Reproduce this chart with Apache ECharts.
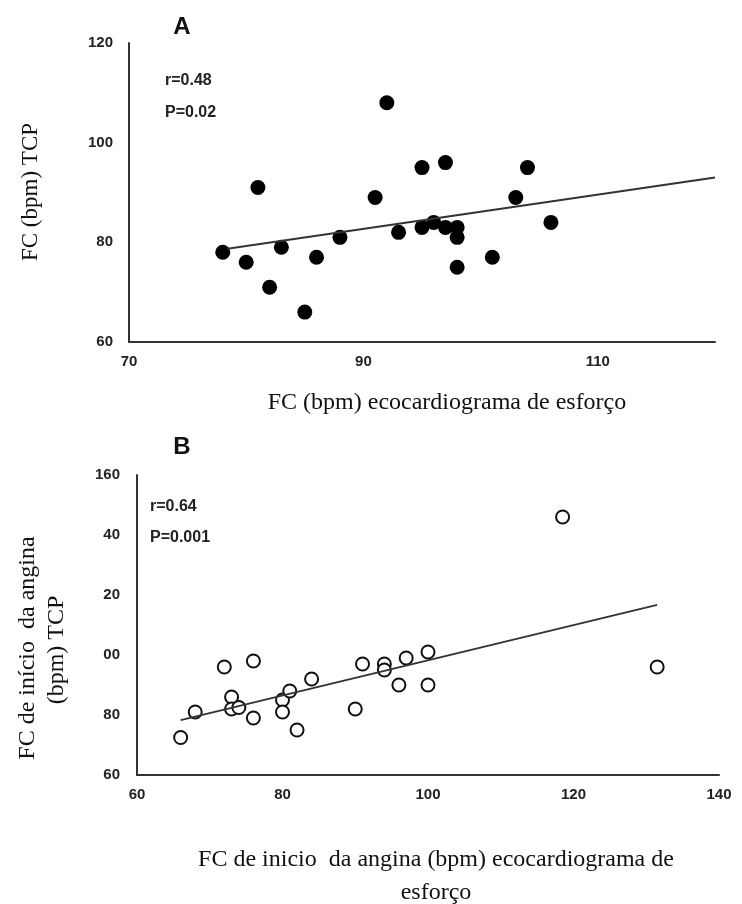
<!DOCTYPE html>
<html>
  <head>
    <meta charset="utf-8" />
    <title>FC TCP vs ecocardiograma</title>
    <script src="https://cdn.jsdelivr.net/npm/echarts@6/dist/echarts.min.js"></script>
    <style>
      html, body { margin: 0; padding: 0; background: #fff; }
      #main { width: 742px; height: 904px; }
    </style>
  </head>

  <body>
    <div id="main"></div>
    <script type="text/javascript">
      // painel A - FC (bpm) ecocardiograma de esforço vs FC TCP
      var xA = [78, 80, 81, 82, 83, 85, 86, 88, 91, 92, 93, 95, 97, 104, 103, 106, 95, 96, 97, 98, 98, 98, 101];
      var yA = [78, 76, 91, 71, 79, 66, 77, 81, 89, 108, 82, 95, 96, 95, 89, 84, 83, 84, 83, 83, 81, 75, 77];
      var fitXA = [78.4, 120];
      var fitYA = [78.7, 93];

      // painel B - FC de inicio da angina
      var xB = [66, 68, 72, 73, 73, 74, 76, 76, 80, 80, 81, 82, 84, 90, 91, 94, 94, 96, 97, 100, 100, 118.5, 131.5];
      var yB = [72.5, 81, 96, 86, 82, 82.5, 98, 79, 85, 81, 88, 75, 92, 82, 97, 97, 95, 90, 99, 101, 90, 146, 96];
      var fitXB = [66, 131.5];
      var fitYB = [78.3, 116.7];

      // rótulos dos eixos como aparecem na figura
      var yTicksA = ["60", "80", "100", "120"];
      var xTicksA = ["70", "90", "110", ""];
      var yTicksB = ["60", "80", "00", "20", "40", "160"];
      var xTicksB = ["60", "80", "100", "120", "140"];

      function pairs(xs, ys) {
        var out = [];
        for (var i = 0; i < xs.length; i++) out.push([xs[i], ys[i]]);
        return out;
      }

      var tickFont = {
        color: "#222",
        fontFamily: "Liberation Sans, Arial, sans-serif",
        fontWeight: "bold",
        fontSize: 15,
      };
      var axisLine = { show: true, lineStyle: { color: "#333", width: 2 } };
      var serifX = "24px 'Liberation Serif', 'Times New Roman', serif";
      var serifY = "23px 'Liberation Serif', 'Times New Roman', serif";
      var boldSans = "bold 16px 'Liberation Sans', Arial, sans-serif";
      var letterFont = "bold 24px 'Liberation Sans', Arial, sans-serif";

      function axis(min, max, interval, labels, margin) {
        return {
          type: "value",
          min: min,
          max: max,
          interval: interval,
          axisLine: axisLine,
          axisTick: { show: false },
          splitLine: { show: false },
          axisLabel: Object.assign({}, tickFont, {
            margin: margin,
            formatter: function (v) {
              return labels[Math.round((v - min) / interval)];
            },
          }),
        };
      }

      function txt(x, y, text, font, extra) {
        return Object.assign(
          { type: "text", x: x, y: y, style: { text: text, font: font, fill: "#111", align: "center", verticalAlign: "middle" } },
          extra || {}
        );
      }

      var myChart = echarts.init(document.getElementById("main"));
      var option = {
        animation: false,
        backgroundColor: "#fff",
        grid: [
          { left: 129, top: 43, width: 586, height: 299 },
          { left: 137, top: 475, width: 582, height: 300 },
        ],
        xAxis: [
          Object.assign(axis(70, 120, 20, xTicksA, 12), { gridIndex: 0 }),
          Object.assign(axis(60, 140, 20, xTicksB, 12), { gridIndex: 1 }),
        ],
        yAxis: [
          Object.assign(axis(60, 120, 20, yTicksA, 16), { gridIndex: 0 }),
          Object.assign(axis(60, 160, 20, yTicksB, 17), { gridIndex: 1 }),
        ],
        series: [
          {
            type: "scatter",
            xAxisIndex: 0,
            yAxisIndex: 0,
            symbolSize: 15,
            itemStyle: { color: "#000", opacity: 1 },
            data: pairs(xA, yA),
          },
          {
            type: "line",
            xAxisIndex: 0,
            yAxisIndex: 0,
            symbol: "none",
            lineStyle: { color: "#333", width: 2 },
            data: pairs(fitXA, fitYA),
          },
          {
            type: "scatter",
            xAxisIndex: 1,
            yAxisIndex: 1,
            symbolSize: 13,
            itemStyle: { color: "#fff", borderColor: "#111", borderWidth: 2, opacity: 1 },
            data: pairs(xB, yB),
          },
          {
            type: "line",
            xAxisIndex: 1,
            yAxisIndex: 1,
            symbol: "none",
            lineStyle: { color: "#333", width: 2 },
            data: pairs(fitXB, fitYB),
          },
        ],
        graphic: [
          txt(182, 27, "A", letterFont),
          { type: "text", x: 165, y: 81, style: { text: "r=0.48", font: boldSans, fill: "#222", verticalAlign: "middle" } },
          { type: "text", x: 165, y: 113, style: { text: "P=0.02", font: boldSans, fill: "#222", verticalAlign: "middle" } },
          txt(447, 403, "FC (bpm) ecocardiograma de esforço", serifX),
          txt(31, 192, "FC (bpm) TCP", serifY, { rotation: Math.PI / 2 }),

          txt(182, 447, "B", letterFont),
          { type: "text", x: 150, y: 507, style: { text: "r=0.64", font: boldSans, fill: "#222", verticalAlign: "middle" } },
          { type: "text", x: 150, y: 538, style: { text: "P=0.001", font: boldSans, fill: "#222", verticalAlign: "middle" } },
          txt(436, 860, "FC de inicio  da angina (bpm) ecocardiograma de", serifX),
          txt(436, 893, "esforço", serifX),
          txt(28, 648, "FC de início  da angina", serifX, { rotation: Math.PI / 2 }),
          txt(57, 650, "(bpm) TCP", serifX, { rotation: Math.PI / 2 }),
        ],
      };
      myChart.setOption(option);
    </script>
  </body>
</html>
